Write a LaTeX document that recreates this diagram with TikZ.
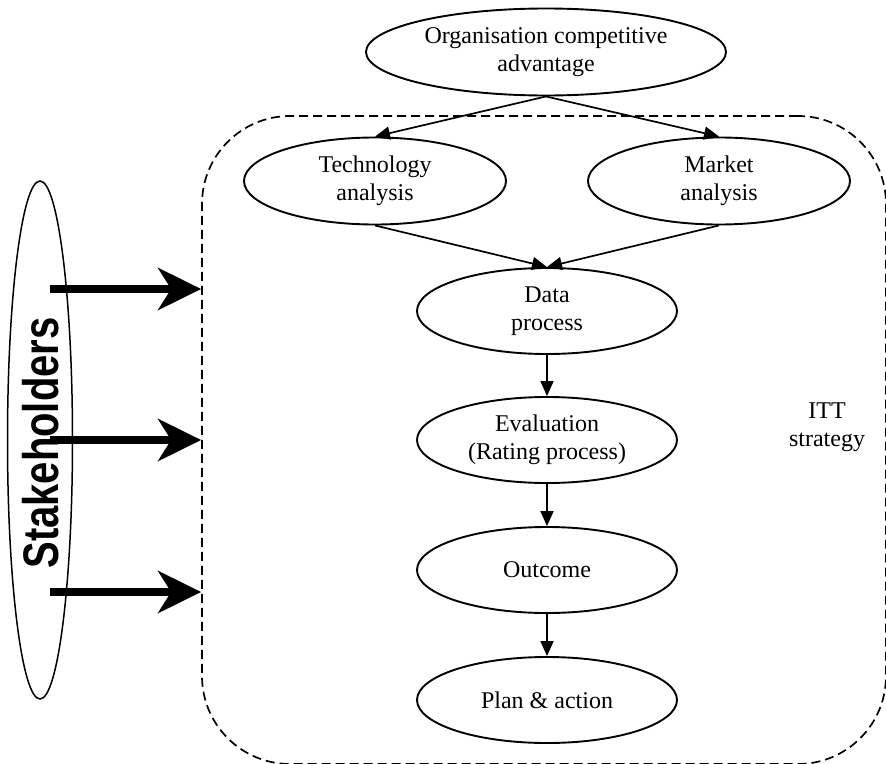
\documentclass[tikz,border=0pt]{standalone}
\usepackage{fontspec}
\setmainfont{Liberation Serif}
\setsansfont{Liberation Sans}
\usetikzlibrary{shapes.geometric,arrows.meta}
\begin{document}
\begin{tikzpicture}[x=1pt,y=-1pt,
  oval/.style={ellipse,draw,line width=1.9pt,inner sep=0pt,minimum width=260pt,minimum height=86pt,
    align=center,font=\fontsize{24}{28}\selectfont},
  conn/.style={line width=1.7pt,-{Triangle[length=15pt,width=13pt]}},
  fat/.style={line width=8pt,-{Stealth[length=43pt,width=42pt,inset=13pt]}},
  itt/.style={draw,dash pattern=on 9pt off 5pt,line width=1.7pt,rounded corners=88pt,
    minimum width=684pt,minimum height=648pt,inner sep=0pt}
]
\useasboundingbox (0,0) rectangle (886,763);
\clip (0,0) rectangle (886,763);
\node[itt] (box) at (544,440) {};
\node[oval,minimum width=360pt,minimum height=87pt] (top) at (546,52) {Organisation competitive\\advantage};
\node[oval,minimum width=262pt,minimum height=87pt] (tech) at (375,181) {Technology\\analysis};
\node[oval,minimum width=262pt,minimum height=87pt] (market) at (719,181) {Market\\analysis};
\node[oval] (data) at (547,311) {Data\\process};
\node[oval] (eval) at (547,440) {Evaluation\\(Rating process)};
\node[oval] (out) at (547,570) {Outcome};
\node[oval] (plan) at (547,700) {Plan \& action};
\node[align=center,font=\fontsize{24}{28}\selectfont] (lbl) at (827,427) {ITT\\strategy};
\node[ellipse,draw,line width=1.5pt,inner sep=0pt,minimum width=518pt,minimum height=65pt,rotate=90] (stake) at (40,440) {};
\node[rotate=90,inner sep=0pt,font=\sffamily\bfseries\fontsize{50}{60}\selectfont] (stxt) at (41,443) {\scalebox{0.8}[1]{Stakeholders}};
\draw[conn] (top.south) -- (tech.north);
\draw[conn] (top.south) -- (market.north);
\draw[conn] (tech.south) -- (data.north);
\draw[conn] (market.south) -- (data.north);
\draw[conn] (data) -- (eval);
\draw[conn] (eval) -- (out);
\draw[conn] (out) -- (plan);
\coordinate (s1) at (50,289);
\coordinate (s2) at (50,440);
\coordinate (s3) at (50,592);
\draw[fat] (s1) -- (box.west |- s1);
\draw[fat] (s2) -- (box.west |- s2);
\draw[fat] (s3) -- (box.west |- s3);
\end{tikzpicture}
\end{document}
